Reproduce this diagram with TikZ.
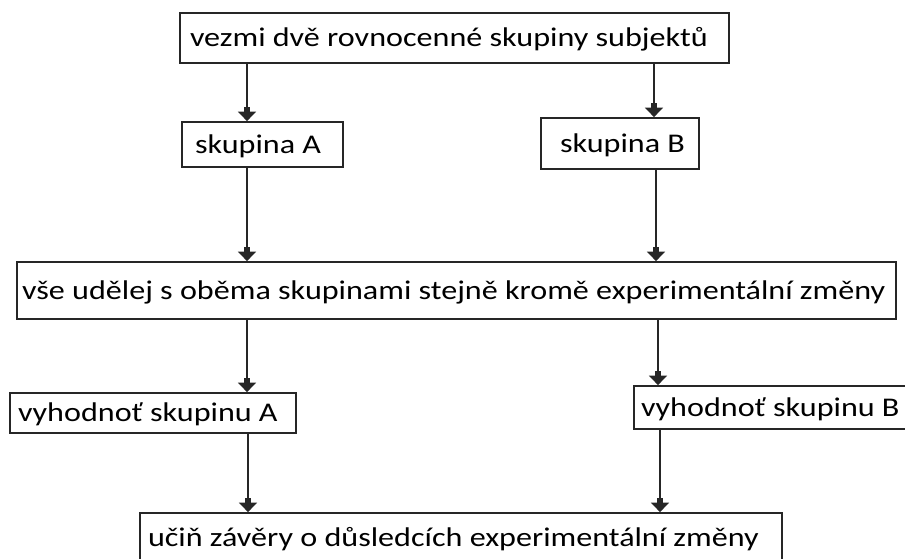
\documentclass[tikz,border=0pt]{standalone}
\usepackage{fontspec}
\setmainfont{Carlito}[FakeStretch=1.19]
\usetikzlibrary{arrows.meta}
\newcommand\boxtxt[3]{\makebox[#1pt][l]{\hspace*{#2pt}\vphantom{Ďjy}#3}}
\begin{document}
\begin{tikzpicture}[x=1pt,y=-1pt,
  box/.style={draw=black!85,line width=1.8pt,inner sep=0pt,
    font=\fontsize{27}{30}\selectfont},
  arr/.style={draw=black!85,line width=1.9pt,
    -{Rectangle[length=6pt,width=6.5pt,sep=-1pt]Triangle[length=9.5pt,width=18pt]}}]
\useasboundingbox (0,0) rectangle (905,558);
\clip (0,0) rectangle (905,558);
\node[box,minimum height=50pt] (top) at (454.5,38) {\boxtxt{549}{10}{vezmi dvě rovnocenné skupiny subjektů}};
\node[box,minimum height=45pt] (A) at (262.5,144.5) {\boxtxt{161}{13}{skupina A}};
\node[box,minimum height=51pt] (B) at (620,143.5) {\boxtxt{158}{19}{skupina B}};
\node[box,minimum height=57pt] (mid) at (456.5,290.5) {\boxtxt{879}{5}{vše udělej s oběma skupinami stejně kromě experimentální změny}};
\node[box,minimum height=40pt] (vA) at (153,413) {\boxtxt{286}{8}{vyhodnoť skupinu A}};
\node[box,minimum height=43pt] (vB) at (774.5,407.5) {\boxtxt{281}{7}{vyhodnoť skupinu B}};
\node[box,minimum height=50pt] (bot) at (461,538) {\boxtxt{642}{8}{učiň závěry o důsledcích experimentální změny}};
\coordinate (c1) at (247,0);
\coordinate (c2) at (654,0);
\coordinate (c3) at (656,0);
\coordinate (c4) at (658,0);
\coordinate (c5) at (248,0);
\coordinate (c6) at (660,0);
\draw[arr] (top.south -| c1) -- (A.north -| c1);
\draw[arr] (top.south -| c2) -- (B.north -| c2);
\draw[arr] (A.south -| c1) -- (mid.north -| c1);
\draw[arr] (B.south -| c3) -- (mid.north -| c3);
\draw[arr] (mid.south -| c1) -- (vA.north -| c1);
\draw[arr] (mid.south -| c4) -- (vB.north -| c4);
\draw[arr] (vA.south -| c5) -- (bot.north -| c5);
\draw[arr] (vB.south -| c6) -- (bot.north -| c6);
\end{tikzpicture}
\end{document}
